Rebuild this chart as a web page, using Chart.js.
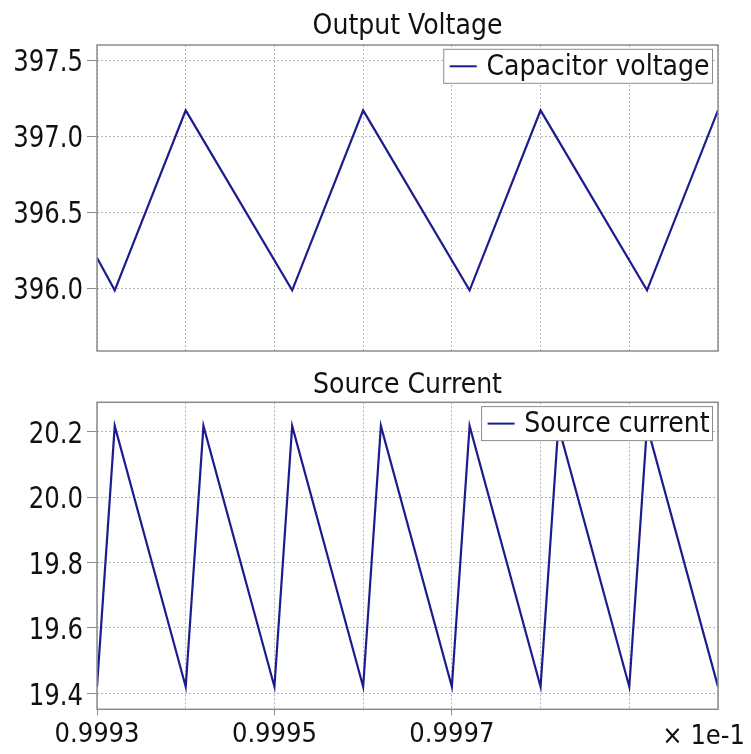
<!DOCTYPE html>
<html>
<head>
<meta charset="utf-8">
<script src="https://cdn.jsdelivr.net/npm/chart.js@4.4.0/dist/chart.umd.min.js"></script>
<style>
  html, body { margin: 0; padding: 0; background: #fff; }
  #top { position: absolute; left: 0; top: 0; width: 751px; height: 360px; }
  #bottom { position: absolute; left: 0; top: 360px; width: 751px; height: 394px; }
</style>
</head>
<body>
<div id="top"><canvas id="voltChart" width="751" height="360"></canvas></div>
<div id="bottom"><canvas id="currChart" width="751" height="394"></canvas></div>
<script>
// time axis (x 1e-1 s)
var voltTime = [0.9993, 0.99932, 0.9994, 0.99952, 0.9996, 0.99972, 0.9998, 0.99992, 1.0];
var voltValues = [396.20, 395.985, 397.17, 395.985, 397.17, 395.985, 397.17, 395.985, 397.17];

var currTime = [0.9993, 0.99932, 0.9994, 0.99942, 0.9995, 0.99952, 0.9996, 0.99962,
                0.9997, 0.99972, 0.9998, 0.99982, 0.9999, 0.99992, 1.0];
var currValues = [19.42, 20.218, 19.42, 20.218, 19.42, 20.218, 19.42, 20.218,
                  19.42, 20.218, 19.42, 20.218, 19.42, 20.218, 19.42];

var xLabels = ['0.9993', '0.9995', '0.9997'];
var xUnit = '\u00d7 1e-1';

var FONT = '"DejaVu Sans Condensed", "DejaVu Sans", sans-serif';
var lineColor = '#1c1c8c';
var gridColor = '#b4b4b4';
var frameColor = '#8c8c8c';

function toPoints(xs, ys) {
  return xs.map(function (x, i) { return { x: x, y: ys[i] }; });
}

// frame round the plot area
var framePlugin = {
  id: 'frame',
  afterDatasetsDraw: function (chart) {
    var a = chart.chartArea, c = chart.ctx;
    c.save();
    c.strokeStyle = frameColor;
    c.lineWidth = 1.5;
    c.strokeRect(a.left, a.top, a.right - a.left, a.bottom - a.top);
    c.restore();
  }
};

// title centred over the plot area
var plotTitle = {
  id: 'plotTitle',
  afterDraw: function (chart, args, opts) {
    var a = chart.chartArea, c = chart.ctx;
    c.save();
    c.font = '28px ' + FONT;
    c.fillStyle = '#111';
    c.textAlign = 'center';
    c.textBaseline = 'alphabetic';
    c.fillText(opts.text, (a.left + a.right) / 2, opts.baseline);
    c.restore();
  }
};

// y tick labels, a bit narrower than the font
var yLabels = {
  id: 'yLabels',
  afterDraw: function (chart) {
    var s = chart.scales.y, c = chart.ctx;
    c.save();
    c.font = '31px ' + FONT;
    c.fillStyle = '#111';
    c.textAlign = 'right';
    c.textBaseline = 'alphabetic';
    s.ticks.forEach(function (t) {
      var y = s.getPixelForValue(t.value);
      c.save();
      c.translate(83, y + 11.3);
      c.scale(0.875, 1);
      c.fillText(t.value.toFixed(1), 0, 0);
      c.restore();
    });
    c.restore();
  }
};

// legend drawn inside the top right corner
var boxLegend = {
  id: 'boxLegend',
  afterDraw: function (chart) {
    var a = chart.chartArea, c = chart.ctx;
    var label = chart.data.datasets[0].label;
    c.save();
    c.font = '28px ' + FONT;
    var tw = c.measureText(label).width;
    var right = a.right - 5.5, top = a.top + 4.3, h = 34;
    var w = 6 + 27 + 9.7 + tw + 3;
    var left = right - w;
    c.fillStyle = '#fff';
    c.fillRect(left, top, w, h);
    c.strokeStyle = frameColor;
    c.lineWidth = 1;
    c.strokeRect(left, top, w, h);
    c.strokeStyle = lineColor;
    c.lineWidth = 2;
    c.beginPath();
    c.moveTo(left + 6, top + h / 2);
    c.lineTo(left + 33, top + h / 2);
    c.stroke();
    c.fillStyle = '#111';
    c.textBaseline = 'middle';
    c.fillText(label, left + 42.7, top + h / 2 + 1);
    c.restore();
  }
};

var unitLabel = {
  id: 'unitLabel',
  afterDraw: function (chart) {
    var c = chart.ctx;
    c.save();
    c.font = '27px ' + FONT;
    c.fillStyle = '#111';
    c.textAlign = 'right';
    c.textBaseline = 'middle';
    c.fillText(xUnit, 745, 377);
    c.restore();
  }
};

function makeOptions(title, baseline, padTop, yMin, yMax, yStep, showX) {
  return {
    responsive: false,
    animation: false,
    layout: { padding: { left: 0, right: 33, top: padTop, bottom: 0 } },
    plugins: {
      legend: { display: false },
      tooltip: { enabled: false },
      title: { display: false },
      plotTitle: { text: title, baseline: baseline }
    },
    scales: {
      x: {
        type: 'linear',
        min: 0.9993,
        max: 1.0,
        afterFit: function (s) { s.height = showX ? 44.7 : 9; },
        border: { display: false, dash: [2, 2] },
        grid: {
          color: gridColor,
          drawTicks: showX,
          tickLength: 6,
          tickBorderDash: [],
          tickColor: function (ctx) {
            return (ctx.index % 2 === 0 && ctx.index < 6) ? frameColor : 'rgba(0,0,0,0)';
          }
        },
        ticks: {
          display: showX,
          stepSize: 0.0001,
          precision: 4,
          autoSkip: false,
          maxRotation: 0,
          padding: 3,
          color: '#111',
          font: { family: FONT, size: 27 },
          callback: function (v, i) {
            return (i % 2 === 0 && i / 2 < xLabels.length) ? xLabels[i / 2] : '';
          }
        }
      },
      y: {
        min: yMin,
        max: yMax,
        afterFit: function (s) { s.width = 97; },
        border: { display: false, dash: [2, 2] },
        grid: {
          color: gridColor,
          tickLength: 10,
          tickBorderDash: [],
          tickColor: frameColor
        },
        ticks: {
          display: false,
          stepSize: yStep,
          includeBounds: false
        }
      }
    }
  };
}

var voltChart = new Chart(document.getElementById('voltChart').getContext('2d'), {
  type: 'line',
  data: {
    datasets: [{
      label: 'Capacitor voltage',
      data: toPoints(voltTime, voltValues),
      borderColor: lineColor,
      borderWidth: 2.2,
      pointRadius: 0,
      tension: 0
    }]
  },
  options: makeOptions('Output Voltage', 33.5, 45, 395.586, 397.6, 0.5, false),
  plugins: [framePlugin, plotTitle, yLabels, boxLegend]
});

var currChart = new Chart(document.getElementById('currChart').getContext('2d'), {
  type: 'line',
  data: {
    datasets: [{
      label: 'Source current',
      data: toPoints(currTime, currValues),
      borderColor: lineColor,
      borderWidth: 2.2,
      pointRadius: 0,
      tension: 0
    }]
  },
  options: makeOptions('Source Current', 32.7, 42.3, 19.351, 20.29, 0.2, true),
  plugins: [framePlugin, plotTitle, yLabels, boxLegend, unitLabel]
});
</script>
</body>
</html>
